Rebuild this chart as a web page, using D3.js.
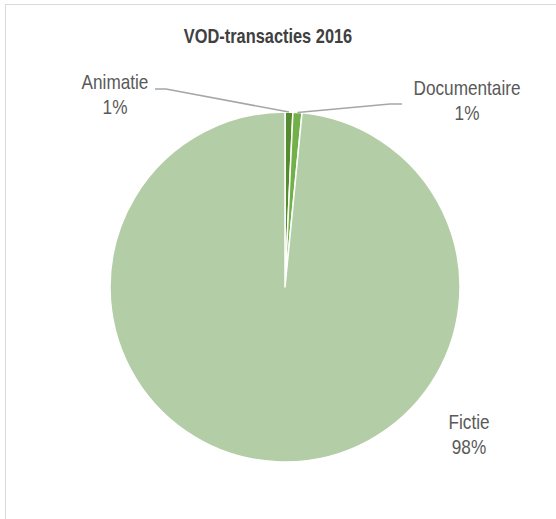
<!DOCTYPE html>
<html>
<head>
<meta charset="utf-8">
<script src="https://cdnjs.cloudflare.com/ajax/libs/d3/7.8.5/d3.min.js"></script>
<style>
  body { margin: 0; background: #fff; }
  text { font-family: "Liberation Sans Narrow", "Arial Narrow", "Liberation Sans", Arial, sans-serif; }
</style>
</head>
<body>
<script>
// data
var categories = ["Animatie", "Documentaire", "Fictie"];
var shares = [0.72, 0.83, 98.45];
var pctLabels = ["1%", "1%", "98%"];
var colors = ["#568b32", "#72b04a", "#b3cea6"];

var width = 556, height = 519;
var cx = 285, cy = 287, radius = 175;
var narrow = 0.86; // no narrow font installed, squeeze the regular one

// label placement relative to pie centre (layout only)
var labelPos = [
  {dx: -170, dy: -198, elbow: [-119, -198], end: [-130, -198]},
  {dx: 182, dy: -192, elbow: [105, -183], end: [117, -183]},
  {dx: 184, dy: 142}
];

var data = categories.map(function(c, i) {
  return {name: c, value: shares[i], pct: pctLabels[i], color: colors[i]};
});

var svg = d3.select("body").append("svg")
    .attr("width", width)
    .attr("height", height);

// chart area border
svg.append("rect")
    .attr("x", 5.5).attr("y", 4.5)
    .attr("width", 600).attr("height", 600)
    .style("fill", "#fff")
    .style("stroke", "#d9d9d9")
    .style("stroke-width", 1);

svg.append("g")
    .attr("transform", "translate(268,43) scale(0.82,1)")
  .append("text")
    .attr("font-size", "20px")
    .attr("font-weight", "bold")
    .style("fill", "#404040")
    .style("text-anchor", "middle")
    .text("VOD-transacties 2016");

var pie = d3.pie().sort(null).value(function(d) { return d.value; });
var arc = d3.arc().innerRadius(0).outerRadius(radius);

var g = svg.append("g")
    .attr("transform", "translate(" + cx + "," + cy + ")");

var arcs = pie(data);

g.selectAll(".slice")
    .data(arcs)
  .enter().append("path")
    .attr("class", "slice")
    .attr("d", arc)
    .style("fill", function(d) { return d.data.color; })
    .style("stroke", "#fff")
    .style("stroke-width", 1.5)
    .style("stroke-linejoin", "round");

// leader lines
arcs.forEach(function(d, i) {
  var p = labelPos[i];
  if (!p.elbow) return;
  var mid = (d.startAngle + d.endAngle) / 2;
  var sx = radius * Math.sin(mid), sy = -radius * Math.cos(mid);
  g.append("polyline")
      .attr("points", [[sx, sy], p.elbow, p.end].map(function(q) { return q.join(","); }).join(" "))
      .style("fill", "none")
      .style("stroke", "#a6a6a6")
      .style("stroke-width", 1.5);
});

// labels
var lbl = g.selectAll(".lbl")
    .data(arcs)
  .enter().append("g")
    .attr("class", "lbl")
    .attr("transform", function(d, i) {
      return "translate(" + labelPos[i].dx + "," + labelPos[i].dy + ") scale(" + narrow + ",1)";
    })
  .append("text")
    .attr("font-size", "20px")
    .style("fill", "#595959")
    .style("text-anchor", "middle");

lbl.append("tspan")
    .attr("x", 0)
    .attr("y", 0)
    .text(function(d) { return d.data.name; });
lbl.append("tspan")
    .attr("x", 0)
    .attr("y", 25)
    .text(function(d) { return d.data.pct; });
</script>
</body>
</html>
